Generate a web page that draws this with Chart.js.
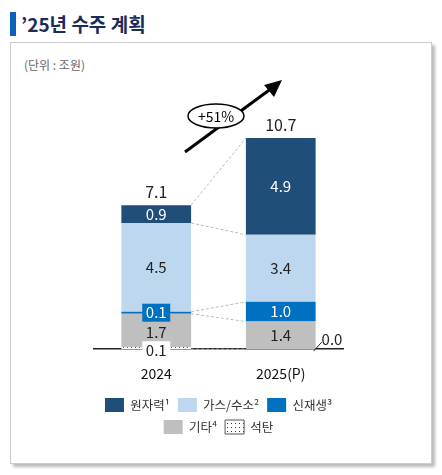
<!DOCTYPE html>
<html><head><meta charset="utf-8">
<script src="https://cdn.jsdelivr.net/npm/chart.js@4"></script>
<style>
body{margin:0;background:#fff;font-family:"Noto Sans CJK KR","Noto Sans",sans-serif;}
#title{position:absolute;left:10px;top:12px;height:24px;border-left:6px solid #0a63b8;padding-left:5px;font-size:19px;font-weight:bold;color:#1a2b5c;line-height:24px;}
#frame{position:absolute;left:10px;top:42px;width:420px;height:420px;border:1px solid #ccc;box-shadow:3px 3px 3px #bbb;}
#unit{position:absolute;left:24px;top:56px;font-size:12px;color:#666;}
#wrap{position:absolute;left:10px;top:42px;width:422px;height:420px;}
</style></head><body>
<div id="title">’25년 수주 계획</div>
<div id="frame"></div>
<div id="unit">(단위 : 조원)</div>
<div id="wrap"><canvas id="c"></canvas></div>
<script>
const years = ['2024', '2025(P)'];
const coal = [0.1, 0.0];
const other = [1.7, 1.4];
const renew = [0.1, 1.0];
const gas = [4.5, 3.4];
const nuclear = [0.9, 4.9];
const totals = ['7.1', '10.7'];

// 석탄 dotted pattern
const pc = document.createElement('canvas');
pc.width = 4; pc.height = 4;
const px = pc.getContext('2d');
px.fillStyle = '#fff'; px.fillRect(0, 0, 4, 4);
px.fillStyle = '#333'; px.fillRect(1, 1, 1, 1);
const dots = px.createPattern(pc, 'repeat');

const overlay = {
    id: 'overlay',
    afterDatasetsDraw(chart) {
        const ctx = chart.ctx;
        const m = i => chart.getDatasetMeta(i).data;
        ctx.save();
        // dashed connectors
        ctx.strokeStyle = '#bbb'; ctx.lineWidth = 1; ctx.setLineDash([3, 2]);
        const L = (a, b) => { ctx.beginPath(); ctx.moveTo(a.x + a.width / 2, a.y); ctx.lineTo(b.x - b.width / 2, b.y); ctx.stroke(); };
        L(m(4)[0], m(4)[1]);
        L(m(3)[0], m(3)[1]);
        L(m(2)[0], m(2)[1]);
        L(m(1)[0], m(1)[1]);
        const b0 = m(0)[0], b1 = m(0)[1];
        ctx.beginPath(); ctx.moveTo(b0.x + b0.width / 2, b0.base); ctx.lineTo(b1.x - b1.width / 2, b1.base); ctx.stroke();
        ctx.setLineDash([]);

        ctx.font = '15px "Noto Sans CJK KR", sans-serif';
        ctx.textAlign = 'center'; ctx.textBaseline = 'middle';
        const colors = ['#222', '#222', '#fff', '#222', '#fff'];
        const sets = [coal, other, renew, gas, nuclear];
        for (let d = 1; d < 5; d++) {
            m(d).forEach((bar, i) => {
                const y = (bar.y + bar.base) / 2;
                if (d === 2 && i === 0) {
                    ctx.fillStyle = '#0070c0'; ctx.fillRect(bar.x - 14, y - 9, 28, 18);
                }
                ctx.fillStyle = colors[d];
                ctx.fillText(sets[d][i].toFixed(1), bar.x, d === 1 && i === 0 ? y + 2 : y);
            });
        }
        // coal labels
        const c0 = m(0)[0];
        ctx.fillStyle = '#fff'; ctx.fillRect(c0.x - 14, c0.base - 8, 28, 17);
        ctx.fillStyle = '#222'; ctx.fillText('0.1', c0.x, c0.base + 1);
        const c1 = m(0)[1];
        ctx.strokeStyle = '#222'; ctx.beginPath();
        ctx.moveTo(c1.x + c1.width / 2 - 2, c1.base + 2); ctx.lineTo(c1.x + c1.width / 2 + 6, c1.base - 7); ctx.stroke();
        ctx.textAlign = 'left'; ctx.fillText('0.0', c1.x + c1.width / 2 + 6, c1.base - 10);
        // totals
        ctx.textAlign = 'center'; ctx.font = '16px "Noto Sans CJK KR", sans-serif';
        m(4).forEach((bar, i) => ctx.fillText(totals[i], bar.x, bar.y - 13));
        // growth arrow
        ctx.strokeStyle = '#000'; ctx.lineWidth = 3;
        ctx.beginPath(); ctx.moveTo(175, 110); ctx.lineTo(262, 46); ctx.stroke();
        ctx.fillStyle = '#000'; ctx.beginPath();
        ctx.moveTo(272, 38); ctx.lineTo(254, 43); ctx.lineTo(264, 55); ctx.closePath(); ctx.fill();
        ctx.lineWidth = 1.5; ctx.fillStyle = '#fff';
        ctx.beginPath(); ctx.ellipse(206, 74, 28, 12, 0, 0, Math.PI * 2); ctx.fill(); ctx.stroke();
        ctx.fillStyle = '#000'; ctx.font = '14px "Noto Sans CJK KR", sans-serif';
        ctx.fillText('+51%', 206, 75);
        ctx.restore();
    }
};

new Chart(document.getElementById('c'), {
    type: 'bar',
    data: {
        labels: years,
        datasets: [
            { label: '석탄', data: coal, backgroundColor: dots },
            { label: '기타⁴', data: other, backgroundColor: '#bfbfbf' },
            { label: '신재생³', data: renew, backgroundColor: '#0070c0' },
            { label: '가스/수소²', data: gas, backgroundColor: '#bdd7ee' },
            { label: '원자력¹', data: nuclear, backgroundColor: '#1f4e79' }
        ]
    },
    options: {
        responsive: true, maintainAspectRatio: false, animation: false,
        barPercentage: 0.56, categoryPercentage: 1,
        layout: { padding: { left: 84, right: 89, top: 31, bottom: 18 } },
        scales: {
            x: {
                stacked: true,
                grid: { display: false },
                border: { color: '#222', width: 1.5 },
                ticks: { color: '#111', font: { size: 14, family: '"Noto Sans CJK KR"' }, padding: 8 }
            },
            y: { stacked: true, display: false, min: 0, max: 14 }
        },
        plugins: {
            tooltip: { enabled: false },
            legend: {
                position: 'bottom',
                reverse: true,
                fullSize: true,
                labels: {
                    boxWidth: 19, boxHeight: 14, padding: 8, color: '#333',
                    font: { size: 12.5, family: '"Noto Sans CJK KR"' },
                    generateLabels(chart) {
                        return chart.data.datasets.map((ds, i) => ({
                            text: ds.label, fillStyle: ds.backgroundColor,
                            strokeStyle: i === 0 ? '#555' : ds.backgroundColor, lineWidth: i === 0 ? 1 : 0,
                            datasetIndex: i, fontColor: '#333'
                        }));
                    }
                }
            }
        }
    },
    plugins: [overlay]
});
</script>
</body></html>
